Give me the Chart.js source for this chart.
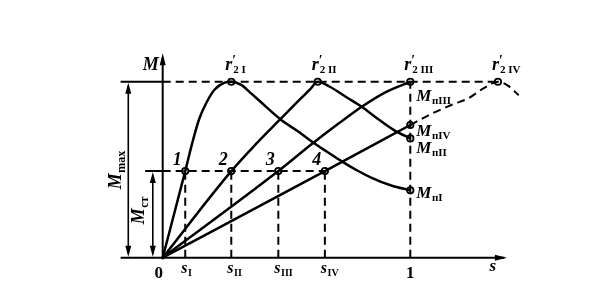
<!DOCTYPE html>
<html>
<head>
<meta charset="utf-8">
<script src="https://cdn.jsdelivr.net/npm/chart.js@4.4.1/dist/chart.umd.min.js"></script>
<style>
  html, body { margin: 0; padding: 0; background: #fff; }
  #wrap { width: 598px; height: 300px; }
</style>
</head>
<body>
<div id="wrap"><canvas id="chart" width="598" height="300"></canvas></div>
<script>
// --- Data (s = slip, M = torque relative to Mmax) ---
const M_MAX = 1.0;
const M_ST = 0.492;

// operating points 1..4 on the M_st line
const sMarks = [0.091, 0.277, 0.467, 0.655];
const sTickLabels = ['I', 'II', 'III', 'IV'];

// curve I (r'2 I)
const curveI_s = [0, 0.091, 0.119, 0.147, 0.178, 0.210, 0.250, 0.277, 0.317, 0.356, 0.396, 0.475, 0.543, 0.606, 0.665, 0.725, 0.784, 0.844, 0.923, 1.0];
const curveI_M = [0, 0.492, 0.650, 0.787, 0.885, 0.956, 0.995, 1.0, 0.982, 0.935, 0.885, 0.787, 0.721, 0.656, 0.601, 0.546, 0.497, 0.454, 0.410, 0.383];

// curve II (r'2 II)
const curveII_s = [0, 0.277, 0.376, 0.475, 0.554, 0.594, 0.626, 0.673, 0.741, 0.804, 0.871, 0.939, 1.0];
const curveII_M = [0, 0.492, 0.645, 0.787, 0.900, 0.955, 1.0, 0.973, 0.913, 0.858, 0.787, 0.721, 0.678];

// curve III (r'2 III)
const curveIII_s = [0, 0.467, 0.606, 0.713, 0.804, 0.899, 1.0];
const curveIII_M = [0, 0.492, 0.650, 0.765, 0.858, 0.940, 1.0];

// curve IV (r'2 IV), solid part and dashed continuation past s = 1
const curveIV_s = [0, 0.655, 1.0];
const curveIV_M = [0, 0.492, 0.754];
const curveIVext_s = [1.0, 1.089, 1.168, 1.236, 1.295, 1.354, 1.394, 1.438];
const curveIVext_M = [0.754, 0.820, 0.869, 0.907, 0.962, 1.0, 0.978, 0.923];

// critical slips (peaks) and starting torques
const peakS = [0.277, 0.626, 1.0, 1.354];
const peakLabels = ['I', 'II', 'III', 'IV'];
const startM = [0.383, 0.678, 1.0, 0.754];   // M_пI, M_пII, M_пIII, M_пIV

const pts = (xs, ys) => xs.map((x, i) => ({ x: x, y: ys[i] }));

// --- Datasets ---
const DASH = [8, 5];
const guide = (data, dashed) => ({
    data: data,
    showLine: true,
    borderColor: '#000',
    borderWidth: 2,
    borderDash: dashed ? DASH : [],
    pointRadius: 0,
    tension: 0
});
const curve = (data, dashed) => ({
    data: data,
    showLine: true,
    borderColor: '#000',
    borderWidth: dashed ? 2 : 2.5,
    borderDash: dashed ? DASH : [],
    pointRadius: 0,
    cubicInterpolationMode: 'monotone'
});

const datasets = [];
// horizontal guides
datasets.push(guide([{ x: -0.170, y: M_MAX }, { x: 0, y: M_MAX }], false));
datasets.push(guide([{ x: 0, y: M_MAX }, { x: peakS[3], y: M_MAX }], true));
datasets.push(guide([{ x: -0.071, y: M_ST }, { x: 0, y: M_ST }], false));
datasets.push(guide([{ x: 0, y: M_ST }, { x: sMarks[3], y: M_ST }], true));
// vertical guides
sMarks.forEach(s => datasets.push(guide([{ x: s, y: 0 }, { x: s, y: M_ST }], true)));
datasets.push(guide([{ x: 1, y: 0 }, { x: 1, y: M_MAX }], true));
// curves
datasets.push(curve(pts(curveI_s, curveI_M)));
datasets.push(curve(pts(curveII_s, curveII_M)));
datasets.push(curve(pts(curveIII_s, curveIII_M)));
datasets.push(curve(pts(curveIV_s, curveIV_M)));
datasets.push(curve(pts(curveIVext_s, curveIVext_M), true));
// circle markers
const markers = []
    .concat(sMarks.map(s => ({ x: s, y: M_ST })))
    .concat(peakS.map(s => ({ x: s, y: M_MAX })))
    .concat([startM[0], startM[1], startM[3]].map(m => ({ x: 1, y: m })));
datasets.push({
    data: markers,
    showLine: false,
    pointRadius: 3.2,
    pointBackgroundColor: '#fff',
    pointBorderColor: '#000',
    pointBorderWidth: 1.8
});

// --- Drawing helpers ---
const SERIF = '"Liberation Serif", "DejaVu Serif", serif';
const F_MAIN = 'bold italic 18px ' + SERIF;
const F_SUB = 'bold 11px ' + SERIF;

function subText(ctx, x, y, main, sub, mainFont, subFont, subDy) {
    ctx.font = mainFont || F_MAIN;
    ctx.fillText(main, x, y);
    const w = ctx.measureText(main).width;
    ctx.font = subFont || F_SUB;
    ctx.fillText(sub, x + w + 0.5, y + (subDy === undefined ? 3 : subDy));
}

function arrowHead(ctx, x, y, dx, dy, len, half) {
    // tip at (x, y), pointing along (dx, dy)
    const bx = x - dx * len, by = y - dy * len;
    ctx.beginPath();
    ctx.moveTo(x, y);
    ctx.lineTo(bx - dy * half, by + dx * half);
    ctx.lineTo(bx + dy * half, by - dx * half);
    ctx.closePath();
    ctx.fill();
}

function line(ctx, x1, y1, x2, y2, w) {
    ctx.lineWidth = w;
    ctx.beginPath();
    ctx.moveTo(x1, y1);
    ctx.lineTo(x2, y2);
    ctx.stroke();
}

const decor = {
    id: 'decor',
    beforeDatasetsDraw(chart) {
        const ctx = chart.ctx;
        const X = v => chart.scales.x.getPixelForValue(v);
        const Y = v => chart.scales.y.getPixelForValue(v);
        ctx.save();
        ctx.strokeStyle = '#000';
        ctx.fillStyle = '#000';
        // axes
        line(ctx, X(-0.170), Y(0), X(1.38), Y(0), 2);
        arrowHead(ctx, X(1.39), Y(0), 1, 0, 12, 3);
        line(ctx, X(0), Y(-0.01), X(0), Y(1.14), 2);
        arrowHead(ctx, X(0), Y(1.162), 0, -1, 12, 3);
        // dimension arrows
        const xa = X(-0.139);
        line(ctx, xa, Y(0) - 4, xa, Y(M_MAX) + 4, 1.6);
        arrowHead(ctx, xa, Y(M_MAX) + 1, 0, -1, 11, 3);
        arrowHead(ctx, xa, Y(0) - 1, 0, 1, 11, 3);
        const xb = X(-0.040);
        line(ctx, xb, Y(0) - 4, xb, Y(M_ST) + 4, 1.6);
        arrowHead(ctx, xb, Y(M_ST) + 1, 0, -1, 11, 3);
        arrowHead(ctx, xb, Y(0) - 1, 0, 1, 11, 3);
        ctx.restore();
    },
    afterDraw(chart) {
        const ctx = chart.ctx;
        const X = v => chart.scales.x.getPixelForValue(v);
        const Y = v => chart.scales.y.getPixelForValue(v);
        ctx.save();
        ctx.fillStyle = '#000';
        ctx.textBaseline = 'alphabetic';
        ctx.textAlign = 'left';

        // axis names
        ctx.font = 'bold italic 18px ' + SERIF;
        ctx.fillText('M', X(0) - 20, Y(M_MAX) - 12);
        ctx.font = 'bold italic 17px ' + SERIF;
        ctx.fillText('s', X(1.32), Y(0) + 13);

        // tick labels
        ctx.font = 'bold 17px ' + SERIF;
        ctx.textAlign = 'center';
        ctx.fillText('0', X(0) - 4, Y(0) + 20);
        ctx.fillText('1', X(1), Y(0) + 20);
        ctx.textAlign = 'left';
        sMarks.forEach((s, i) => {
            subText(ctx, X(s) - 4, Y(0) + 15, 's', sTickLabels[i], 'bold italic 16px ' + SERIF, 'bold 10px ' + SERIF, 3);
        });

        // point numbers
        ctx.font = 'bold italic 18px ' + SERIF;
        ctx.textAlign = 'center';
        sMarks.forEach((s, i) => ctx.fillText(String(i + 1), X(s) - 8, Y(M_ST) - 6));
        ctx.textAlign = 'left';

        // r'2 labels over the peaks
        peakS.forEach((s, i) => {
            const x0 = X(s) - 6, y0 = Y(M_MAX) - 12;
            ctx.font = 'bold italic 18px ' + SERIF;
            ctx.fillText('r', x0, y0);
            const w = ctx.measureText('r').width;
            ctx.font = 'bold 14px ' + SERIF;
            ctx.fillText('\u2032', x0 + w, y0 - 5);
            ctx.font = F_SUB;
            ctx.fillText('2 ' + peakLabels[i], x0 + w + 1, y0 + 3);
        });

        // starting torque labels at s = 1
        const dy = [8, 15, 19, 11];
        startM.forEach((m, i) => {
            subText(ctx, X(1) + 6, Y(m) + dy[i], 'M', '\u043f' + peakLabels[i], 'bold italic 17px ' + SERIF, 'bold 11px ' + SERIF, 3);
        });

        // rotated dimension labels
        ctx.save();
        ctx.translate(X(-0.170), Y(0.5));
        ctx.rotate(-Math.PI / 2);
        ctx.font = 'bold italic 18px ' + SERIF;
        const wM = ctx.measureText('M').width;
        ctx.font = 'bold 12px ' + SERIF;
        const wMax = ctx.measureText('max').width;
        let start = -(wM + wMax + 1) / 2;
        subText(ctx, start, 0, 'M', 'max', 'bold italic 18px ' + SERIF, 'bold 12px ' + SERIF, 4);
        ctx.restore();

        ctx.save();
        ctx.translate(X(-0.076), Y(0.27));
        ctx.rotate(-Math.PI / 2);
        ctx.font = 'bold italic 18px ' + SERIF;
        const wM2 = ctx.measureText('M').width;
        ctx.font = 'bold 12px ' + SERIF;
        const wSt = ctx.measureText('\u0441\u0442').width;
        start = -(wM2 + wSt + 1) / 2;
        subText(ctx, start, 0, 'M', '\u0441\u0442', 'bold italic 18px ' + SERIF, 'bold 12px ' + SERIF, 4);
        ctx.restore();

        ctx.restore();
    }
};

// --- Chart ---
const ctx = document.getElementById('chart').getContext('2d');
new Chart(ctx, {
    type: 'scatter',
    data: { datasets: datasets },
    options: {
        responsive: false,
        devicePixelRatio: 1,
        animation: false,
        events: [],
        layout: { padding: 0 },
        plugins: {
            legend: { display: false },
            tooltip: { enabled: false }
        },
        scales: {
            // ranges chosen so that s = 0..1 and M = 0..Mmax land where the figure has them
            x: { type: 'linear', display: false, min: -0.6337, max: 1.7347 },
            y: { type: 'linear', display: false, min: -0.2077, max: 1.4317 }
        }
    },
    plugins: [decor]
});
</script>
</body>
</html>
